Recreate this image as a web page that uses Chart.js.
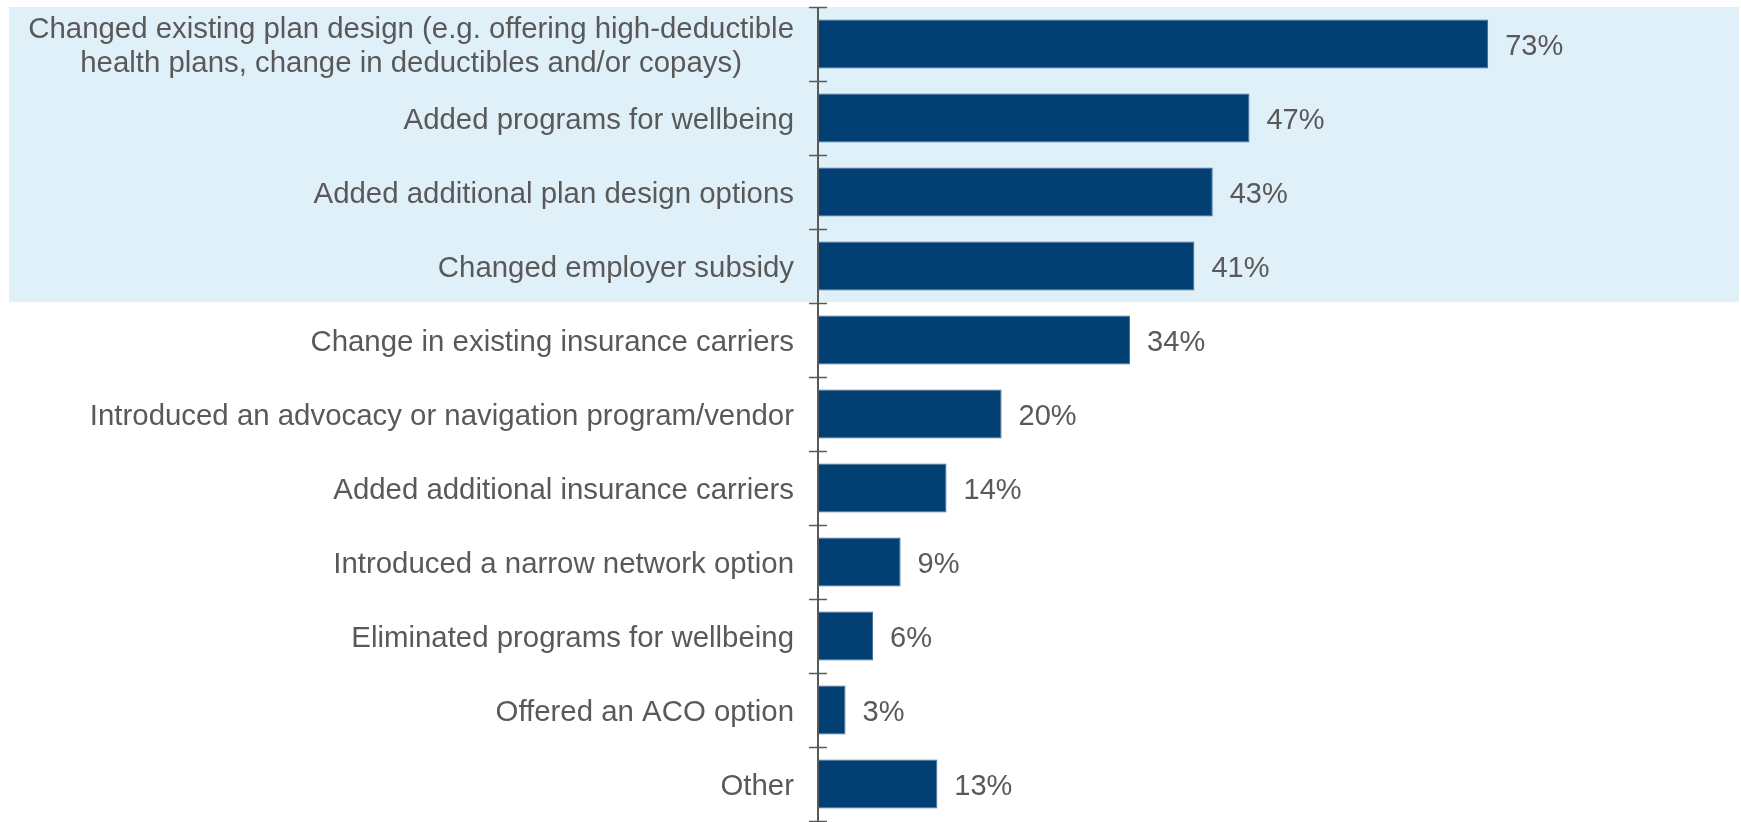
<!DOCTYPE html>
<html>
<head>
<meta charset="utf-8">
<script src="https://cdn.jsdelivr.net/npm/chart.js@4/dist/chart.umd.min.js"></script>
<style>
  html, body { margin: 0; padding: 0; background: #ffffff; }
  #wrap { width: 1741px; height: 822px; position: relative; }
</style>
</head>
<body>
<div id="wrap"><canvas id="chart"></canvas></div>
<script>
// Plan changes made by employers, share of respondents
const categories = [
  ["Changed existing plan design (e.g. offering high-deductible", "health plans, change in deductibles and/or copays)"],
  "Added programs for wellbeing",
  "Added additional plan design options",
  "Changed employer subsidy",
  "Change in existing insurance carriers",
  "Introduced an advocacy or navigation program/vendor",
  "Added additional insurance carriers",
  "Introduced a narrow network option",
  "Eliminated programs for wellbeing",
  "Offered an ACO option",
  "Other"
];
const shares = [73, 47, 43, 41, 34, 20, 14, 9, 6, 3, 13];
const highlightedCount = 4; // first rows shaded as a group

const TEXT = '#595959';
const CAT_FONT = '29.4px "Liberation Sans", Arial, sans-serif';
const VAL_FONT = '29px "Liberation Sans", Arial, sans-serif';
const TEXT_SHIFT = 3; // optical centring of text against the bars

// Shaded band behind the highlighted rows
const bandPlugin = {
  id: 'band',
  beforeDraw(chart) {
    const y = chart.scales.y, ctx = chart.ctx;
    const top = y.getPixelForValue(-0.5);
    const bottom = y.getPixelForValue(highlightedCount - 0.5) - 1;
    ctx.save();
    ctx.fillStyle = '#E0F0F9';
    ctx.fillRect(9, top, chart.width - 11, bottom - top);
    ctx.restore();
  }
};

// Category labels: block right-aligned to the axis, lines centred within the block
const labelPlugin = {
  id: 'catLabels',
  afterDraw(chart) {
    const y = chart.scales.y, ctx = chart.ctx;
    const right = chart.chartArea.left - 24;
    const lineH = 34.5;
    ctx.save();
    ctx.font = CAT_FONT;
    ctx.fillStyle = TEXT;
    ctx.textBaseline = 'middle';
    ctx.textAlign = 'center';
    categories.forEach((lab, i) => {
      const lines = Array.isArray(lab) ? lab : [lab];
      const blockW = Math.max(...lines.map(l => ctx.measureText(l).width));
      const cx = right - blockW / 2;
      const cy = y.getPixelForValue(i) + TEXT_SHIFT;
      lines.forEach((l, k) => {
        ctx.fillText(l, cx, cy + (k - (lines.length - 1) / 2) * lineH);
      });
    });
    ctx.restore();
  }
};

// Vertical axis with tick marks crossing it at the category boundaries
const axisPlugin = {
  id: 'axisTicks',
  afterDatasetsDraw(chart) {
    const y = chart.scales.y, ctx = chart.ctx;
    const x0 = chart.chartArea.left;
    ctx.save();
    ctx.strokeStyle = '#595959';
    ctx.lineWidth = 1.5;
    for (let i = 0; i <= categories.length; i++) {
      const py = Math.round(y.getPixelForValue(i - 0.5)) + 0.5;
      ctx.beginPath();
      ctx.moveTo(x0 - 9, py);
      ctx.lineTo(x0 + 9, py);
      ctx.stroke();
    }
    ctx.lineWidth = 2;
    ctx.beginPath();
    ctx.moveTo(x0, y.getPixelForValue(-0.5));
    ctx.lineTo(x0, y.getPixelForValue(categories.length - 0.5));
    ctx.stroke();
    ctx.restore();
  }
};

// Percentage labels at the end of each bar
const valuePlugin = {
  id: 'values',
  afterDatasetsDraw(chart) {
    const ctx = chart.ctx;
    const meta = chart.getDatasetMeta(0);
    ctx.save();
    ctx.font = VAL_FONT;
    ctx.fillStyle = TEXT;
    ctx.textAlign = 'left';
    ctx.textBaseline = 'middle';
    meta.data.forEach((bar, i) => {
      ctx.fillText(shares[i] + '%', bar.x + 17, bar.y + TEXT_SHIFT);
    });
    ctx.restore();
  }
};

new Chart(document.getElementById('chart'), {
  type: 'bar',
  data: {
    labels: categories,
    datasets: [{
      data: shares,
      backgroundColor: '#023F72',
      borderColor: '#3A6B9A',
      borderWidth: 1,
      barPercentage: 0.66,
      categoryPercentage: 1.0
    }]
  },
  options: {
    indexAxis: 'y',
    responsive: true,
    maintainAspectRatio: false,
    animation: false,
    layout: { padding: { left: 0, right: 5, top: 7, bottom: 1 } },
    plugins: { legend: { display: false }, tooltip: { enabled: false } },
    scales: {
      x: { display: false, min: 0, max: 100 },
      y: {
        display: true,
        offset: true,
        grid: { display: false },
        border: { display: false },
        ticks: { display: false },
        afterFit(scale) { scale.width = 818; }
      }
    }
  },
  plugins: [bandPlugin, axisPlugin, valuePlugin, labelPlugin]
});
</script>
</body>
</html>
